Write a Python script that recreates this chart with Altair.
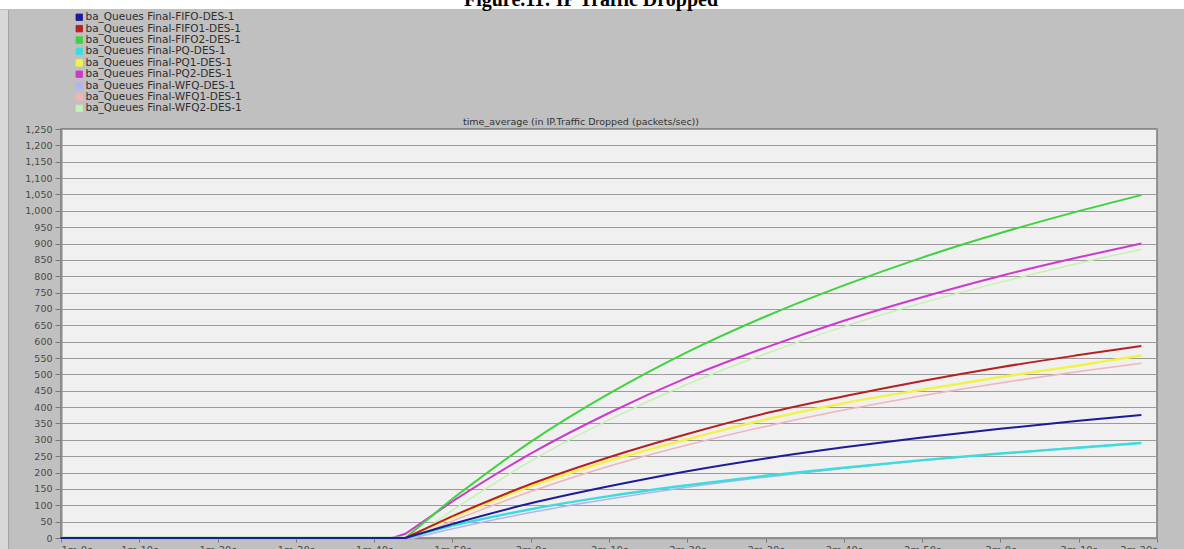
import altair as alt
import pandas as pd

# ---- series (time in seconds, values in packets/sec) ----
series_names = [
    "ba_Queues Final-FIFO-DES-1",
    "ba_Queues Final-FIFO1-DES-1",
    "ba_Queues Final-FIFO2-DES-1",
    "ba_Queues Final-PQ-DES-1",
    "ba_Queues Final-PQ1-DES-1",
    "ba_Queues Final-PQ2-DES-1",
    "ba_Queues Final-WFQ-DES-1",
    "ba_Queues Final-WFQ1-DES-1",
    "ba_Queues Final-WFQ2-DES-1",
]
series_colors = ["#1c1c96", "#b52025", "#3fd23f", "#3cdcdc", "#f2f24a",
                 "#cc3acc", "#b4b4ec", "#f0b4bc", "#c4f2b4"]
line_widths = [2, 2, 2, 2.5, 2.5, 2, 1.5, 1.5, 1.5]

start_s = 60
onset_s = [104, 104, 104, 104, 104, 102.3, 105, 105, 105]
grid_s = [110, 120, 130, 140, 150, 160, 170, 180, 190, 198]

fifo = [43, 106, 158, 204, 243, 277, 307, 334, 358, 376]
fifo1 = [67, 165, 247, 318, 381, 433, 480, 522, 559, 587]
fifo2 = [120, 294, 441, 568, 677, 772, 857, 932, 999, 1048]
pq = [38, 88, 128, 161, 190, 215, 238, 258, 276, 290]
pq1 = [64, 158, 236, 302, 362, 412, 453, 492, 527, 558]
pq2 = [112, 258, 382, 490, 582, 664, 736, 801, 858, 900]
wfq = [28, 78, 119, 155, 186, 213, 237, 258, 277, 291]
wfq1 = [52, 142, 219, 284, 341, 391, 435, 474, 509, 534]
wfq2 = [85, 235, 361, 470, 563, 646, 718, 782, 840, 882]
values = [fifo, fifo1, fifo2, pq, pq1, pq2, wfq, wfq1, wfq2]

# PQ2 starts dropping a little earlier, with a short shallow segment
pq2_early_t, pq2_early_v = 104, 13

y_ticks = list(range(0, 1251, 50))
x_ticks = list(range(60, 201, 10))

caption = "Figure.11: IP Traffic Dropped"
stat_title = "time_average (in IP.Traffic Dropped (packets/sec))"

# straight part: idle stretch plus the first climb; curved part: the rest
straight_rows, curve_rows = [], []
for name, t0, vals in zip(series_names, onset_s, values):
    straight_rows.append({"series": name, "t": start_s, "v": 0})
    straight_rows.append({"series": name, "t": t0, "v": 0})
    if name.endswith("PQ2-DES-1"):
        straight_rows.append({"series": name, "t": pq2_early_t, "v": pq2_early_v})
    straight_rows.append({"series": name, "t": grid_s[0], "v": vals[0]})
    for t, v in zip(grid_s, vals):
        curve_rows.append({"series": name, "t": t, "v": v})
straight_df = pd.DataFrame(straight_rows)
curve_df = pd.DataFrame(curve_rows)

W, H = 1096, 409
PAD_L, PAD_T, PAD_R, PAD_B = 61, 129, 27, 11

x_enc = alt.X(
    "t:Q",
    scale=alt.Scale(domain=[60, 200], nice=False, zero=False),
    axis=alt.Axis(
        values=x_ticks,
        labelExpr="floor(datum.value / 60) + 'm ' + (datum.value % 60) + 's'",
        title=None,
        grid=False,
        tickSize=4,
        tickColor="#777777",
        labelPadding=3,
        labelBaseline="top",
        labelFont="DejaVu Sans",
        labelFontSize=10,
        labelColor="#4a4a4a",
        domainColor="#8a8a8a",
        domainWidth=1.5,
        labelOverlap=False,
    ),
)
y_enc = alt.Y(
    "v:Q",
    scale=alt.Scale(domain=[0, 1250], nice=False),
    axis=alt.Axis(
        values=y_ticks,
        format=",.0f",
        title=None,
        grid=True,
        gridColor="#9c9c9c",
        gridWidth=1,
        tickSize=6,
        tickColor="#777777",
        labelPadding=3,
        labelFont="DejaVu Sans",
        labelFontSize=9.5,
        labelColor="#4a4a4a",
        domainColor="#8a8a8a",
        domainWidth=2,
        labelOverlap=False,
    ),
)

one = pd.DataFrame({"k": [0]})

# window chrome: white strip on top, lighter strip on the left
top_strip = alt.Chart(one).mark_rect(color="white").encode(
    x=alt.value(-PAD_L), x2=alt.value(W + PAD_R),
    y=alt.value(-PAD_T), y2=alt.value(-PAD_T + 9),
)
top_rule = alt.Chart(one).mark_rule(color="#b8c0cf", strokeWidth=1.2).encode(
    x=alt.value(-PAD_L), x2=alt.value(W + PAD_R), y=alt.value(-PAD_T + 9.5),
)
left_strip = alt.Chart(one).mark_rect(color="#d8d8d8").encode(
    x=alt.value(-PAD_L), x2=alt.value(-PAD_L + 8),
    y=alt.value(-PAD_T + 10), y2=alt.value(H + PAD_B),
)
left_rule = alt.Chart(one).mark_rule(color="#a4a4a4", strokeWidth=1).encode(
    x=alt.value(-PAD_L + 8.5), y=alt.value(-PAD_T + 10), y2=alt.value(H + PAD_B),
)
cap = alt.Chart(one).mark_text(
    text=caption, font="Liberation Serif", fontSize=20, fontWeight="bold",
    align="center", baseline="alphabetic", color="black",
).encode(x=alt.value(530), y=alt.value(-PAD_T + 6))
stat_cap = alt.Chart(one).mark_text(
    text=stat_title, font="DejaVu Sans", fontSize=9.5,
    align="center", baseline="alphabetic", color="#333333",
).encode(x=alt.value(520), y=alt.value(-4))

line_color = alt.Color(
    "series:N",
    scale=alt.Scale(domain=series_names, range=series_colors),
    legend=None,
)

# drawn back to front so the first series ends up on top
lines = []
for name, w in reversed(list(zip(series_names, line_widths))):
    lines.append(
        alt.Chart(straight_df[straight_df["series"] == name])
        .mark_line(strokeWidth=w)
        .encode(x=x_enc, y=y_enc, color=line_color)
    )
    lines.append(
        alt.Chart(curve_df[curve_df["series"] == name])
        .mark_line(strokeWidth=w, interpolate="monotone")
        .encode(x=x_enc, y=y_enc, color=line_color)
    )

# legend: filled swatches with a dark outline; its points sit at the
# origin, where they are hidden under the flat start of the lines
legend_src = alt.Chart(straight_df[straight_df["t"] == start_s]).mark_square(
    filled=True, size=1, stroke="#1c1c96", strokeWidth=0.5, opacity=1
).encode(
    x=x_enc,
    y=y_enc,
    fill=alt.Fill(
        "series:N",
        title=None,
        scale=alt.Scale(domain=series_names, range=series_colors),
        legend=alt.Legend(
            orient="none",
            legendX=13,
            legendY=-117,
            symbolType="square",
            symbolSize=42,
            symbolStrokeColor="#333333",
            symbolStrokeWidth=0.8,
            labelFont="DejaVu Sans",
            labelFontSize=10.5,
            labelColor="#2e2e2e",
            labelOffset=1,
            labelLimit=400,
            rowPadding=0.4,
            padding=0,
        ),
    ),
)

chart = (
    alt.layer(top_strip, top_rule, left_strip, left_rule, cap, stat_cap,
              legend_src, *lines)
    .properties(
        width=W,
        height=H,
        autosize=alt.AutoSizeParams(type="none"),
        padding={"left": PAD_L, "top": PAD_T, "right": PAD_R, "bottom": PAD_B},
    )
    .configure(background="#c0c0c0")
    .configure_view(fill="#f0f0f0", stroke="#7a7a7a", strokeWidth=1.5)
)

chart.save("out.html", embed_options={"renderer": "svg", "actions": False})
